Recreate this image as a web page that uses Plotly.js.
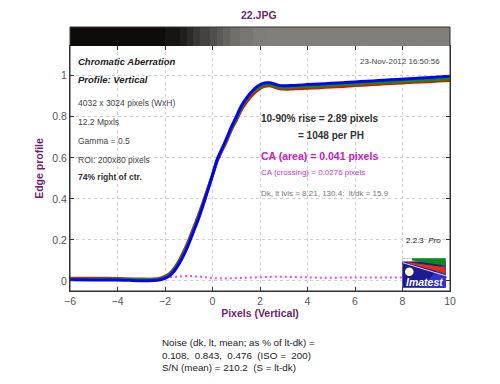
<!DOCTYPE html>
<html><head><meta charset="utf-8">
<script src="https://cdn.plot.ly/plotly-3.0.1.min.js"></script>
<style>html,body{margin:0;padding:0;background:#fff;}#chart{width:500px;height:384px;}</style>
</head><body><div id="chart"></div>
<script>
// ---- data ----
const profileX = [-6, -5, -4, -3.5, -3, -2.5, -2.2, -2, -1.8, -1.6, -1.4, -1.2, -1.0, -0.8, -0.6, -0.4, -0.2, 0, 0.2, 0.4, 0.6, 0.8, 1.0, 1.2, 1.4, 1.6, 1.8, 2.0, 2.2, 2.4, 2.6, 2.8, 3.0, 3.3, 3.6, 4, 4.5, 5, 5.5, 6, 6.5, 7, 7.5, 8, 8.5, 9, 9.5, 10];
const redProfile = [0.013, 0.013, 0.012, 0.010, 0.009, 0.009, 0.013, 0.022, 0.037, 0.064, 0.100, 0.146, 0.198, 0.258, 0.318, 0.382, 0.450, 0.517, 0.585, 0.635, 0.683, 0.737, 0.782, 0.830, 0.866, 0.896, 0.920, 0.938, 0.948, 0.951, 0.945, 0.938, 0.935, 0.935, 0.937, 0.939, 0.942, 0.945, 0.948, 0.952, 0.955, 0.959, 0.962, 0.965, 0.968, 0.971, 0.974, 0.977];
const greenProfile = [0.010, 0.010, 0.009, 0.008, 0.007, 0.007, 0.010, 0.018, 0.032, 0.058, 0.093, 0.138, 0.190, 0.250, 0.310, 0.375, 0.445, 0.515, 0.590, 0.640, 0.690, 0.745, 0.790, 0.840, 0.876, 0.908, 0.930, 0.946, 0.955, 0.957, 0.950, 0.944, 0.942, 0.943, 0.945, 0.947, 0.950, 0.953, 0.956, 0.960, 0.963, 0.966, 0.970, 0.972, 0.975, 0.978, 0.981, 0.984];
const blueProfile = [0.006, 0.005, 0.005, 0.003, 0.001, 0.002, 0.006, 0.013, 0.026, 0.050, 0.085, 0.128, 0.180, 0.240, 0.300, 0.368, 0.440, 0.515, 0.593, 0.645, 0.697, 0.752, 0.800, 0.850, 0.886, 0.916, 0.940, 0.956, 0.965, 0.966, 0.960, 0.953, 0.951, 0.952, 0.954, 0.957, 0.960, 0.963, 0.966, 0.970, 0.973, 0.977, 0.980, 0.983, 0.987, 0.990, 0.994, 0.998];
const caX = [-2, -1.5, -1, -0.5, 0, 0.5, 1, 1.5, 2, 2.5, 3, 3.5, 4, 4.5, 5, 5.5, 6, 6.5, 7, 7.5, 8, 8.5, 9, 9.5, 10];
const caDiff = [0.018, 0.022, 0.024, 0.020, 0.014, 0.012, 0.014, 0.018, 0.020, 0.020, 0.020, 0.018, 0.017, 0.016, 0.016, 0.017, 0.017, 0.016, 0.017, 0.017, 0.016, 0.017, 0.018, 0.018, 0.018];
const barEdges = [-6, -2.0, -1.37, -1.09, -0.82, -0.53, -0.1, 0.18, 0.45, 0.74, 1.16, 1.7, 2.3, 10];
const barLevels = [0.0, 0.08, 0.16, 0.26, 0.37, 0.48, 0.58, 0.67, 0.76, 0.85, 0.93, 0.98, 1.0];
const xTickVals = [-6, -4, -2, 0, 2, 4, 6, 8, 10];
const yTickVals = [0, 0.2, 0.4, 0.6, 0.8, 1];
const yTickText = ['0', '0.2', '0.4', '0.6', '0.8', '1'];

// ---- layout helpers (pixel -> paper) ----
const L = 70, R = 450, T = 27, B = 291;
const px = v => (v - L) / (R - L);
const py = v => (B - v) / (B - T);
const FONT = 'Liberation Sans, Arial, sans-serif';
const PURPLE = '#6e1f6e';

const traces = [
  {type: 'heatmap', x: barEdges, y: [0, 1], z: [barLevels], xaxis: 'x', yaxis: 'y2',
   colorscale: [[0, '#0e0b09'], [1, '#827e7a']], zmin: 0, zmax: 1, showscale: false, hoverinfo: 'skip'},
  {type: 'scatter', mode: 'lines', x: caX, y: caDiff, line: {color: '#ff40ff', width: 2, dash: '2px,3px'}, hoverinfo: 'skip'},
  {type: 'scatter', mode: 'lines', x: profileX, y: redProfile, line: {color: '#ff0000', width: 3, shape: 'spline', smoothing: 0.6}},
  {type: 'scatter', mode: 'lines', x: profileX, y: greenProfile, line: {color: '#009900', width: 3, shape: 'spline', smoothing: 0.6}},
  {type: 'scatter', mode: 'lines', x: profileX, y: blueProfile, line: {color: '#0000ff', width: 3, shape: 'spline', smoothing: 0.6}}
];

function ann(text, x, y, opts) {
  return Object.assign({text: text, xref: 'paper', yref: 'paper', x: px(x), y: py(y), showarrow: false,
    xanchor: 'left', yanchor: 'middle', font: {family: FONT, size: 8, color: '#333'}}, opts || {});
}
function path(points) {
  return 'M ' + points.map(p => px(p[0]) + ',' + py(p[1])).join(' L ') + ' Z';
}

const annotations = [
  ann('<b><i>Chromatic Aberration</i></b>', 76, 61.5, {font: {family: FONT, size: 9.5, color: '#222'}}),
  ann('<b><i>Profile: Vertical</i></b>', 76, 79, {font: {family: FONT, size: 9.5, color: '#222'}}),
  ann('4032 x 3024 pixels (WxH)', 76, 103, {font: {family: FONT, size: 8.5, color: '#444'}}),
  ann('12.2 Mpxls', 76, 121.7, {font: {family: FONT, size: 8.5, color: '#444'}}),
  ann('Gamma = 0.5', 76, 140.7, {font: {family: FONT, size: 8.5, color: '#444'}}),
  ann('ROI: 200x80 pixels', 76, 160, {font: {family: FONT, size: 8.5, color: '#444'}}),
  ann('<b>74% right of ctr.</b>', 76, 176.7, {font: {family: FONT, size: 8.5, color: '#333'}}),
  ann('23-Nov-2012 16:50:56', 442, 61, {xanchor: 'right', font: {family: FONT, size: 8, color: '#444'}}),
  ann('<b>10-90% rise = 2.89 pixels</b>', 259, 118.3, {font: {family: FONT, size: 10, color: '#333'}}),
  ann('<b>= 1048 per PH</b>', 296, 135, {font: {family: FONT, size: 10, color: '#333'}}),
  ann('<b>CA (area) = 0.041 pixels</b>', 259, 155.7, {font: {family: FONT, size: 10.5, color: '#c41cc4'}}),
  ann('CA (crossing) = 0.0276 pixels', 259, 172.7, {font: {family: FONT, size: 8, color: '#cc33cc'}}),
  ann('Dk, lt lvls = 8.21, 130.4;  lt/dk = 15.9', 259, 193.3, {font: {family: FONT, size: 8, color: '#777'}}),
  ann('2.2.3  <i>Pro</i>', 443, 240, {xanchor: 'right', font: {family: FONT, size: 8, color: '#222'}}),
  ann('<b><i>Imatest</i></b>', 424, 282.3, {xanchor: 'center', font: {family: FONT, size: 10.5, color: '#ffffff'}}),
  ann('<b>22.JPG</b>', 258.7, 15.3, {xanchor: 'center', font: {family: FONT, size: 10.5, color: PURPLE}}),
  ann('Noise (dk, lt, mean; as % of lt-dk) =<br>0.108,  0.843,  0.476  (ISO =  200)<br>S/N (mean) = 210.2  (S = lt-dk)', 160, 355,
      {align: 'left', font: {family: FONT, size: 9.8, color: '#222'}})
];

const shapes = [
  {type: 'rect', xref: 'paper', yref: 'paper', x0: px(402.3), x1: px(445.7), y0: py(287.7), y1: py(258.3),
   fillcolor: '#1a1a92', line: {width: 0}},
  {type: 'path', xref: 'paper', yref: 'paper', path: path([[445.7, 262], [445.7, 287.7], [420, 287.7]]),
   fillcolor: '#3030cc', line: {width: 0}},
  {type: 'path', xref: 'paper', yref: 'paper', path: path([[402.3, 258.3], [445.7, 258.3], [445.7, 261], [402.3, 261.5]]),
   fillcolor: '#ffffff', line: {width: 0}},
  {type: 'path', xref: 'paper', yref: 'paper', path: path([[412, 258.3], [445.7, 258.3], [445.7, 265.7], [412, 260.5]]),
   fillcolor: '#0a8a1a', line: {width: 0}},
  {type: 'path', xref: 'paper', yref: 'paper', path: path([[408, 262.3], [445.7, 267.3], [445.7, 273.5], [408, 263.3]]),
   fillcolor: '#e03010', line: {width: 0}},
  {type: 'path', xref: 'paper', yref: 'paper', path: path([[403, 262.3], [445.7, 275.3], [445.7, 276.3], [403, 263.2]]),
   fillcolor: '#f0d0f0', line: {width: 0}},
  {type: 'circle', xref: 'paper', yref: 'paper', x0: px(405), x1: px(413.6), y0: py(276), y1: py(267.4),
   fillcolor: '#ffffc8', line: {width: 0}},
  {type: 'rect', xref: 'paper', yref: 'paper', x0: 0, x1: 1, y0: 0, y1: 1, line: {color: '#333', width: 1}}
];

const layout = {
  width: 500, height: 384,
  margin: {l: L, r: 500 - R, t: T, b: 384 - B, pad: 0},
  paper_bgcolor: '#ffffff', plot_bgcolor: '#ffffff',
  showlegend: false,
  font: {family: FONT, size: 10, color: '#444'},
  xaxis: {range: [-6, 10], tickvals: xTickVals, ticks: 'inside', ticklen: 4, tickcolor: '#333',
          showline: true, linecolor: '#333', linewidth: 1, mirror: 'ticks', zeroline: false,
          showgrid: true, gridcolor: '#d0d0d0', griddash: 'dot', anchor: 'y',
          tickfont: {family: FONT, size: 10.5, color: '#555'},
          title: {text: '<b>Pixels (Vertical)</b>', font: {family: FONT, size: 10.5, color: PURPLE}, standoff: 4}},
  yaxis: {domain: [0, 245 / 264], range: [-0.049, 1.145], tickvals: yTickVals, ticktext: yTickText,
          ticks: 'inside', ticklen: 4, tickcolor: '#333', showline: true, linecolor: '#333', linewidth: 1,
          mirror: 'ticks', zeroline: false, showgrid: true, gridcolor: '#d0d0d0', griddash: 'dot',
          tickfont: {family: FONT, size: 10.5, color: '#555'},
          title: {text: '<b>Edge profile</b>', font: {family: FONT, size: 10.5, color: PURPLE}, standoff: 6}},
  yaxis2: {domain: [245 / 264, 1], range: [0, 1], visible: false, fixedrange: true},
  annotations: annotations,
  shapes: shapes
};

Plotly.newPlot('chart', traces, layout, {staticPlot: true, displayModeBar: false});
</script>
</body></html>
